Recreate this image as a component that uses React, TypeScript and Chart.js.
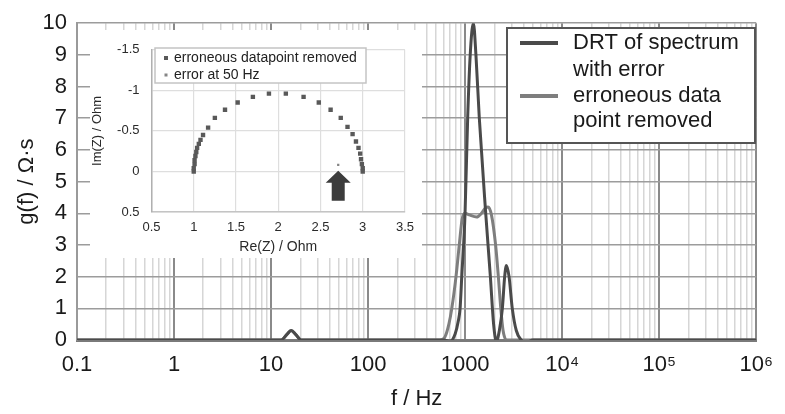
import React, { useEffect, useRef } from 'react';
import { Chart, registerables } from 'chart.js';

Chart.register(...registerables);

const FONT = '"Liberation Sans", Arial, Helvetica, sans-serif';

// ---------- main chart: axes ----------
const decadeValues = [0.1, 1, 10, 100, 1000, 1e4, 1e5, 1e6];
const decadeLabels = ['0.1', '1', '10', '100', '1000', '10⁴', '10⁵', '10⁶'];
const minorMultipliers = [2, 3, 4, 5, 6, 7, 8, 9];
const yMin = 0;
const yMax = 10;
const yStep = 1;

// ---------- main chart: series ----------
const errorFreq = [0.1, 10, 12.7, 14.5, 16.1, 18, 20.4, 600, 700, 790, 850, 887, 923, 998, 1062, 1128, 1216, 1292, 1400, 1630, 1820, 1965, 2100, 2253, 2420, 2555, 2660, 2835, 3060, 3366, 3785, 4257, 5000, 1e6];
const errorG = [0, 0, 0, 0.17, 0.3, 0.17, 0, 0, -0.04, 0.2, 0.6, 1.0, 2.0, 4.0, 7.0, 9.0, 10.0, 9.0, 7.0, 4.0, 2.0, 0.5, -0.05, 0.3, 1.0, 2.0, 2.35, 2.0, 1.0, 0.3, 0.0, -0.08, 0, 0];

const removedFreq = [0.1, 10, 12.7, 14.5, 16.1, 18, 20.4, 550, 620, 680, 729, 805, 870, 930, 990, 1100, 1313, 1476, 1630, 1725, 1867, 2060, 2200, 2330, 2460, 2660, 1e6];
const removedG = [0, 0, 0, 0.17, 0.3, 0.17, 0, 0, 0.1, 0.5, 1.0, 2.0, 3.0, 3.8, 4.0, 3.95, 3.88, 4.0, 4.18, 4.2, 3.95, 3.0, 2.0, 1.0, 0.3, 0, 0];

const seriesLabels = ['DRT of spectrum with error', 'erroneous data point removed'];
const legendLines = [['DRT of spectrum', 'with error'], ['erroneous data', 'point removed']];

// ---------- inset (Nyquist plot) ----------
const nyqRe = [1.0, 1.0, 1.01, 1.01, 1.02, 1.03, 1.04, 1.06, 1.08, 1.11, 1.17, 1.25, 1.37, 1.52, 1.70, 1.89, 2.09, 2.30, 2.48, 2.62, 2.74, 2.82, 2.88, 2.92, 2.95, 2.97, 2.98, 2.99, 3.0, 3.0];
const nyqIm = [0.0, -0.04, -0.09, -0.14, -0.19, -0.24, -0.29, -0.34, -0.39, -0.45, -0.54, -0.66, -0.76, -0.85, -0.92, -0.96, -0.96, -0.92, -0.85, -0.76, -0.66, -0.55, -0.46, -0.37, -0.29, -0.22, -0.15, -0.09, -0.04, 0.0];
const errRe = [2.71];
const errIm = [-0.08];
const insetLabels = ['erroneous datapoint removed', 'error at 50 Hz'];
const arrowRe = 2.71;
const arrowTipIm = -0.01;
const arrowHeadIm = 0.14;
const arrowTailIm = 0.36;
const reMin = 0.5, reMax = 3.5, reStep = 0.5;
const imMin = -1.5, imMax = 0.5, imStep = 0.5;

const DARK = '#4a4a4a';
const LIGHT = '#7e7e7e';

const isDecade = (v: number) => decadeValues.some((d) => Math.abs(d - v) / d < 1e-6);
const fmt = (v: any) => String(Math.round(Number(v) * 100) / 100);

const mainLegendPlugin = {
  id: 'mainLegend',
  afterDraw(chart: any) {
    const ctx = chart.ctx;
    ctx.save();
    const L = 507, T = 28, W = 248, H = 115;
    ctx.fillStyle = '#ffffff';
    ctx.fillRect(L, T, W, H);
    ctx.strokeStyle = '#555555';
    ctx.lineWidth = 2;
    ctx.strokeRect(L, T, W, H);
    ctx.font = `22px ${FONT}`;
    ctx.textBaseline = 'middle';
    ctx.textAlign = 'left';
    const rowY = [43, 70, 96, 121];
    let r = 0;
    chart.data.datasets.forEach((ds: any, i: number) => {
      ctx.strokeStyle = ds.borderColor;
      ctx.lineWidth = 4;
      ctx.beginPath();
      ctx.moveTo(520, rowY[r]);
      ctx.lineTo(558, rowY[r]);
      ctx.stroke();
      ctx.fillStyle = '#1a1a1a';
      legendLines[i].forEach((line) => {
        ctx.fillText(line, 573, rowY[r]);
        r++;
      });
    });
    ctx.restore();
  },
};

const insetLegendPlugin = {
  id: 'insetLegend',
  afterDraw(chart: any) {
    const ctx = chart.ctx;
    ctx.save();
    const L = 65, T = 18, W = 211, H = 35;
    ctx.fillStyle = '#ffffff';
    ctx.fillRect(L, T, W, H);
    ctx.strokeStyle = '#c4c4c4';
    ctx.lineWidth = 1.5;
    ctx.strokeRect(L, T, W, H);
    ctx.font = `14px ${FONT}`;
    ctx.textBaseline = 'middle';
    ctx.textAlign = 'left';
    const rows = [28, 45];
    chart.data.datasets.forEach((ds: any, i: number) => {
      ctx.fillStyle = ds.backgroundColor;
      const s = i === 0 ? 4 : 3;
      ctx.fillRect(76 - s / 2, rows[i] - s / 2, s, s);
      ctx.fillStyle = '#222222';
      ctx.fillText(insetLabels[i], 84, rows[i]);
    });
    ctx.restore();
  },
};

const arrowPlugin = {
  id: 'arrow',
  afterDatasetsDraw(chart: any) {
    const { ctx, scales } = chart;
    const cx = scales.x.getPixelForValue(arrowRe);
    const tip = scales.y.getPixelForValue(arrowTipIm);
    const head = scales.y.getPixelForValue(arrowHeadIm);
    const tail = scales.y.getPixelForValue(arrowTailIm);
    ctx.save();
    ctx.fillStyle = '#3c3c3c';
    ctx.beginPath();
    ctx.moveTo(cx, tip);
    ctx.lineTo(cx + 12.5, head);
    ctx.lineTo(cx + 6.5, head);
    ctx.lineTo(cx + 6.5, tail);
    ctx.lineTo(cx - 6.5, tail);
    ctx.lineTo(cx - 6.5, head);
    ctx.lineTo(cx - 12.5, head);
    ctx.closePath();
    ctx.fill();
    ctx.restore();
  },
};

export default function App() {
  const mainRef = useRef<HTMLCanvasElement>(null);
  const insetRef = useRef<HTMLCanvasElement>(null);

  useEffect(() => {
    Chart.defaults.font.family = FONT;
    const xTicks: number[] = [];
    decadeValues.forEach((d, i) => {
      xTicks.push(d);
      if (i < decadeValues.length - 1) minorMultipliers.forEach((m) => xTicks.push(d * m));
    });

    const main = new Chart(mainRef.current as HTMLCanvasElement, {
      type: 'line',
      data: {
        datasets: [
          {
            label: seriesLabels[0],
            data: errorFreq.map((f, i) => ({ x: f, y: errorG[i] })),
            borderColor: DARK,
            borderWidth: 3,
            pointRadius: 0,
            cubicInterpolationMode: 'monotone',
            order: 0,
          },
          {
            label: seriesLabels[1],
            data: removedFreq.map((f, i) => ({ x: f, y: removedG[i] })),
            borderColor: LIGHT,
            borderWidth: 3,
            pointRadius: 0,
            cubicInterpolationMode: 'monotone',
            order: 1,
          },
        ],
      } as any,
      options: {
        animation: false,
        responsive: false,
        maintainAspectRatio: false,
        layout: { padding: { top: 21, right: 23, left: 0, bottom: 0 } },
        plugins: { legend: { display: false }, tooltip: { enabled: false } },
        scales: {
          x: {
            type: 'logarithmic',
            min: decadeValues[0],
            max: decadeValues[decadeValues.length - 1],
            afterBuildTicks: (s: any) => {
              s.ticks = xTicks.map((v) => ({ value: v }));
            },
            afterFit: (s: any) => {
              s.height = 74;
            },
            ticks: {
              autoSkip: false,
              maxRotation: 0,
              padding: 12,
              color: '#1a1a1a',
              font: { size: 22, family: FONT },
              callback: (v: any) => {
                const i = decadeValues.findIndex((d) => Math.abs(d - Number(v)) / d < 1e-6);
                return i >= 0 ? decadeLabels[i] : '';
              },
            },
            grid: {
              drawTicks: false,
              color: (c: any) => (c.tick && isDecade(c.tick.value) ? '#8a8a8a' : '#d6d6d6'),
              lineWidth: (c: any) => (c.tick && isDecade(c.tick.value) ? 2 : 1.5),
            },
            border: { display: true, color: '#7a7a7a', width: 3 },
            title: {
              display: true,
              text: 'f / Hz',
              color: '#1a1a1a',
              font: { size: 22, family: FONT },
              padding: { top: 0, bottom: 2 },
            },
          },
          y: {
            type: 'linear',
            min: yMin,
            max: yMax,
            afterFit: (s: any) => {
              s.width = 77;
            },
            ticks: {
              stepSize: yStep,
              padding: 10,
              color: '#1a1a1a',
              font: { size: 22, family: FONT },
            },
            grid: { drawTicks: false, color: '#9c9c9c', lineWidth: 1.5 },
            border: { display: true, color: '#9a9a9a', width: 2 },
            title: {
              display: true,
              text: 'g(f) / Ω·s',
              color: '#1a1a1a',
              font: { size: 22, family: FONT },
              padding: { top: 14, bottom: 0 },
            },
          },
        },
      } as any,
      plugins: [mainLegendPlugin],
    });

    const inset = new Chart(insetRef.current as HTMLCanvasElement, {
      type: 'scatter',
      data: {
        datasets: [
          {
            label: insetLabels[0],
            data: nyqRe.map((r, i) => ({ x: r, y: nyqIm[i] })),
            pointStyle: 'rect',
            pointRadius: 3.1,
            backgroundColor: '#595959',
            borderWidth: 0,
          },
          {
            label: insetLabels[1],
            data: errRe.map((r, i) => ({ x: r, y: errIm[i] })),
            pointStyle: 'rect',
            pointRadius: 1.6,
            backgroundColor: '#858585',
            borderWidth: 0,
          },
        ],
      } as any,
      options: {
        animation: false,
        responsive: false,
        maintainAspectRatio: false,
        layout: { padding: { top: 17, right: 9.5, left: 0, bottom: 0 } },
        plugins: { legend: { display: false }, tooltip: { enabled: false } },
        scales: {
          x: {
            type: 'linear',
            min: reMin,
            max: reMax,
            afterFit: (s: any) => {
              s.height = 46;
            },
            ticks: { stepSize: reStep, padding: 8, color: '#2a2a2a', font: { size: 13, family: FONT }, callback: fmt },
            grid: { drawTicks: false, color: '#dedede', lineWidth: 1.2 },
            border: { display: true, color: '#c4c4c4', width: 1.5 },
            title: {
              display: true,
              text: 'Re(Z) / Ohm',
              color: '#2a2a2a',
              font: { size: 14, family: FONT },
              padding: { top: 0, bottom: 2 },
            },
          },
          y: {
            type: 'linear',
            min: imMin,
            max: imMax,
            reverse: true,
            afterFit: (s: any) => {
              s.width = 61.5;
            },
            ticks: { stepSize: imStep, padding: 12, color: '#2a2a2a', font: { size: 13, family: FONT }, callback: fmt },
            grid: { drawTicks: false, color: '#dedede', lineWidth: 1.2 },
            border: { display: true, color: '#b0b0b0', width: 1.5 },
            title: {
              display: true,
              text: 'Im(Z) / Ohm',
              color: '#2a2a2a',
              font: { size: 13, family: FONT },
              padding: { top: 0, bottom: 0 },
            },
          },
        },
      } as any,
      plugins: [arrowPlugin, insetLegendPlugin],
    });

    return () => {
      main.destroy();
      inset.destroy();
    };
  }, []);

  return (
    <div style={{ position: 'absolute', left: 0, top: 0, width: 785, height: 414, background: '#ffffff' }}>
      <canvas ref={mainRef} width={785} height={414} style={{ position: 'absolute', left: 0, top: 0, width: 785, height: 414 }} />
      <canvas
        ref={insetRef}
        width={332}
        height={228}
        style={{ position: 'absolute', left: 90, top: 30, width: 332, height: 228, background: '#ffffff' }}
      />
    </div>
  );
}
